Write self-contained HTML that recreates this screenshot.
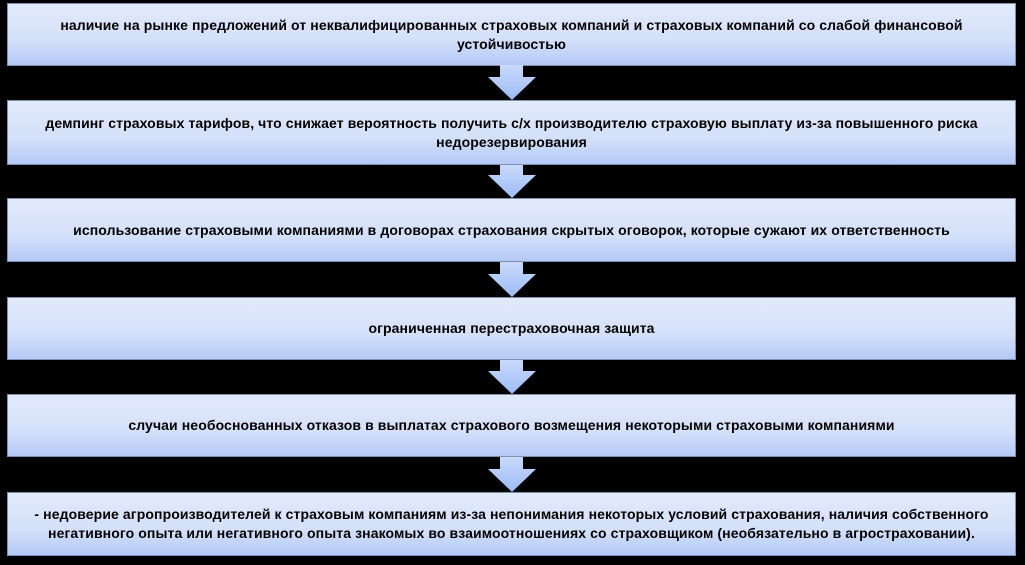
<!DOCTYPE html>
<html><head><meta charset="utf-8"><style>
html,body{margin:0;padding:0;background:#000;width:1025px;height:565px;overflow:hidden}
.b{position:absolute;left:7px;width:1009px;box-sizing:border-box;border:1px solid #7f8fb0;
background:linear-gradient(#e2eafc,#d4e0fa 60%,#b3c9f6);display:flex;align-items:center;justify-content:center;
text-align:center;font-family:"Liberation Sans",sans-serif;font-size:14px;line-height:19px;color:#000;padding:0 5px;font-weight:bold;letter-spacing:0.1px;white-space:nowrap}
</style></head><body>
<div class="b" style="top:3px;height:63px"><div>наличие на рынке предложений от неквалифицированных страховых компаний и страховых компаний со слабой финансовой<br>устойчивостью</div></div>
<div class="b" style="top:100px;height:65px"><div>демпинг страховых тарифов, что снижает вероятность получить с/х производителю страховую выплату из-за повышенного риска<br>недорезервирования</div></div>
<div class="b" style="top:198px;height:64px"><div>использование страховыми компаниями в договорах страхования скрытых оговорок, которые сужают их ответственность</div></div>
<div class="b" style="top:297px;height:63px"><div>ограниченная перестраховочная защита</div></div>
<div class="b" style="top:394px;height:63px"><div>случаи необоснованных отказов в выплатах страхового возмещения некоторыми страховыми компаниями</div></div>
<div class="b" style="top:492px;height:64px"><div>- недоверие агропроизводителей к страховым компаниям из-за непонимания некоторых условий страхования, наличия собственного<br>негативного опыта или негативного опыта знакомых во взаимоотношениях со страховщиком (необязательно в агростраховании).</div></div>
<svg width="1025" height="565" style="position:absolute;left:0;top:0">
<defs><linearGradient id="g" x1="0" y1="0" x2="0" y2="1"><stop offset="0" stop-color="#c9d9fb"/><stop offset="1" stop-color="#9dbcf6"/></linearGradient></defs>
<g fill="url(#g)">
<polygon points="500,65 523,65 523,77 536,77 512,100 488,77 500,77"/>
<polygon points="500,165 523,165 523,175 536,175 512,198 488,175 500,175"/>
<polygon points="500,262 523,262 523,274 536,274 512,297 488,274 500,274"/>
<polygon points="500,360 523,360 523,371 536,371 512,394 488,371 500,371"/>
<polygon points="500,457 523,457 523,469 536,469 512,492 488,469 500,469"/>
</g></svg>
</body></html>
